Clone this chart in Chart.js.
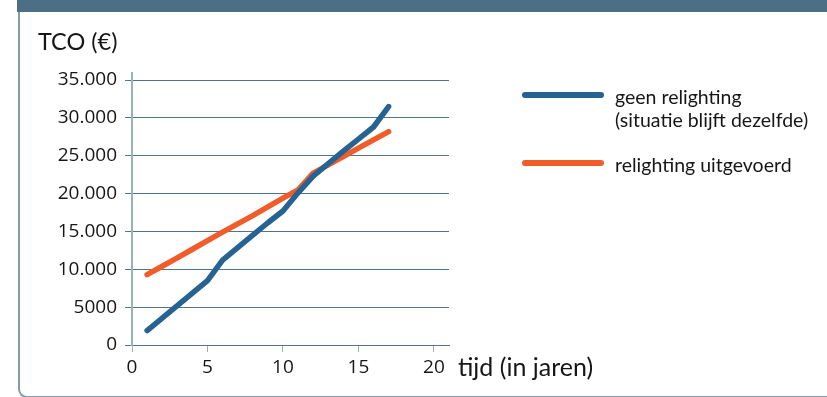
<!DOCTYPE html>
<html>
<head>
<meta charset="utf-8">
<script src="https://cdn.jsdelivr.net/npm/chart.js@4/dist/chart.umd.min.js"></script>
<style>
  html, body { margin: 0; padding: 0; background: #fff; }
  #wrap { position: relative; width: 827px; height: 397px; overflow: hidden; }
  .bar { position: absolute; left: 17px; top: 0; width: 830px; height: 12px; background: #4b7086; }
  .frame { position: absolute; left: 18px; top: 12px; width: 840px; height: 384px;
           border-left: 2px solid #7f9cb0; border-bottom: 2px solid #7f9cb0;
           border-bottom-left-radius: 9px; }
  canvas { position: absolute; left: 0; top: 0; }
</style>
</head>
<body>
<div id="wrap">
  <div class="bar"></div>
  <div class="frame"></div>
  <canvas id="c" width="827" height="397"></canvas>
</div>
<script>
// Total cost of ownership per year, with and without relighting
const years = [1, 2, 3, 4, 5, 6, 7, 8, 9, 10, 11, 12, 13, 14, 15, 16, 17];
const geenRelighting = [1900, 3550, 5200, 6850, 8500, 11200, 12850, 14500, 16150, 17700,
                        20100, 22300, 23950, 25600, 27200, 28800, 31500];
const relightingUitgevoerd = [9300, 10400, 11500, 12650, 13800, 14900, 16000, 17100, 18250, 19400,
                              20500, 22700, 23800, 24900, 26000, 27100, 28200];

const seriesNames = [['geen relighting', '(situatie blijft dezelfde)'], ['relighting uitgevoerd']];
const xTicks = [0, 5, 10, 15, 20];
const yTicks = [0, 5000, 10000, 15000, 20000, 25000, 30000, 35000];
const yTickLabels = ['0', '5000', '10.000', '15.000', '20.000', '25.000', '30.000', '35.000'];
const yTitle = 'TCO (€)';
const xTitle = 'tijd (in jaren)';

const BLUE = '#266292';
const ORANGE = '#f15d2a';
const GRID = '#52738b';
const AXIS = '#98b0c0';
const TEXT = '#161616';
const TICK_FONT = { family: 'Open Sans', size: 19 };
const LABEL_FONT = 'Lato';

const toPoints = vals => vals.map((v, i) => ({ x: years[i], y: v }));

// Axis titles and the two-entry legend on the right
const annotations = {
  id: 'annotations',
  afterDraw(chart) {
    const ctx = chart.ctx;
    const xs = chart.scales.x;
    ctx.save();
    ctx.fillStyle = TEXT;
    ctx.textBaseline = 'alphabetic';
    ctx.textAlign = 'left';
    ctx.font = '23.5px ' + LABEL_FONT;
    ctx.fillText(yTitle, 38, 50);
    ctx.font = '25px ' + LABEL_FONT;
    ctx.fillText(xTitle, xs.getPixelForValue(20) + 24, 376);

    const entries = [
      { color: BLUE, lines: seriesNames[0], y: 95 },
      { color: ORANGE, lines: seriesNames[1], y: 163 }
    ];
    ctx.font = '19.5px ' + LABEL_FONT;
    entries.forEach(e => {
      ctx.strokeStyle = e.color;
      ctx.lineWidth = 6;
      ctx.lineCap = 'round';
      ctx.beginPath();
      ctx.moveTo(525, e.y);
      ctx.lineTo(601, e.y);
      ctx.stroke();
      e.lines.forEach((t, k) => ctx.fillText(t, 615, e.y + 9 + k * 23));
    });
    ctx.restore();
  }
};

new Chart(document.getElementById('c'), {
  type: 'line',
  data: {
    datasets: [
      { label: seriesNames[0].join(' '), data: toPoints(geenRelighting), borderColor: BLUE },
      { label: seriesNames[1].join(' '), data: toPoints(relightingUitgevoerd), borderColor: ORANGE }
    ]
  },
  options: {
    responsive: false,
    animation: false,
    devicePixelRatio: 1,
    layout: { padding: { left: 0, top: 72.5, right: 378, bottom: 0 } },
    elements: {
      line: { borderWidth: 5.5, tension: 0, borderCapStyle: 'round', borderJoinStyle: 'round', fill: false },
      point: { radius: 0, hoverRadius: 0 }
    },
    plugins: { legend: { display: false }, title: { display: false }, tooltip: { enabled: false } },
    scales: {
      x: {
        type: 'linear',
        min: 0,
        max: 21,
        afterBuildTicks: s => { s.ticks = xTicks.map(v => ({ value: v })); },
        afterFit: s => { s.height = 52; },
        grid: { drawOnChartArea: false, drawTicks: true, tickLength: 7, color: AXIS, tickColor: AXIS },
        border: { display: true, color: GRID, width: 1 },
        ticks: { font: TICK_FONT, color: TEXT, padding: 4, maxRotation: 0, autoSkip: false,
                 callback: v => String(v) }
      },
      y: {
        type: 'linear',
        min: 0,
        max: 36000,
        afterBuildTicks: s => { s.ticks = yTicks.map(v => ({ value: v })); },
        afterFit: s => { s.width = 132; },
        grid: { drawOnChartArea: true, drawTicks: true, tickLength: 7, color: GRID, tickColor: GRID, lineWidth: 1 },
        border: { display: true, color: AXIS, width: 2 },
        ticks: { font: TICK_FONT, color: TEXT, padding: 8, autoSkip: false,
                 callback: v => yTickLabels[yTicks.indexOf(v)] }
      }
    }
  },
  plugins: [annotations]
});
</script>
</body>
</html>
